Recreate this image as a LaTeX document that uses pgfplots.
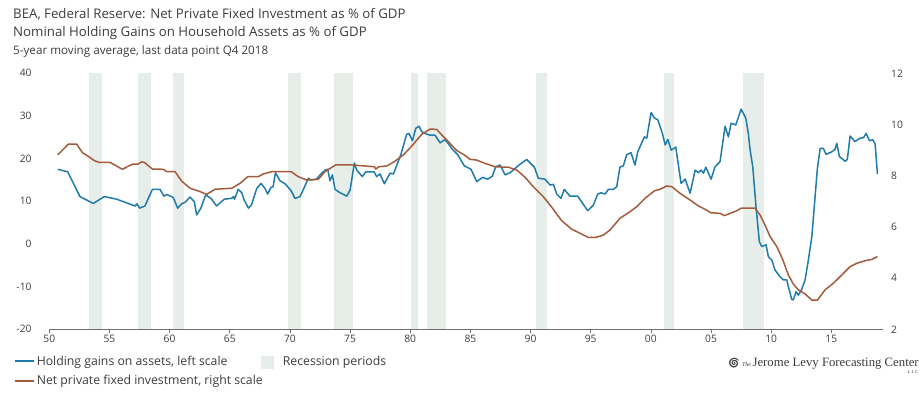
\documentclass[border=0pt]{standalone}
\usepackage{pgfplots}
\pgfplotsset{compat=1.18}
\usepackage{fontspec}
\setmainfont{Open Sans}
\newfontfamily\logofont{Liberation Serif}
\newfontfamily\emojifont{Noto Emoji}
\definecolor{blueline}{HTML}{1E7BAA}
\definecolor{brownline}{HTML}{A35B3B}
\definecolor{recess}{HTML}{E7EDE9}
\definecolor{txt}{HTML}{3C3C3C}
\definecolor{axgray}{HTML}{707070}
\pgfplotsset{
  common/.style={
    at={(0,0)}, anchor=south west,
    scale only axis, width=833.4bp, height=256bp,
    xmin=1950, xmax=2019.27,
    tick label style={font=\fontsize{10.3}{12}\selectfont, text=txt},
    /pgf/number format/assume math mode=true,
    legend style={draw=none, fill=none, inner sep=0pt, anchor=west,
      font=\fontsize{12.3}{14}\selectfont, text=txt,
      /tikz/every even column/.append style={column sep=32bp}},
  }
}
\begin{document}
\begin{tikzpicture}
\path[use as bounding box] (-49.3bp,-67.7bp) rectangle (872.7bp,329.3bp);
\node[anchor=base west, inner sep=0pt, text=txt, font=\fontsize{13.3}{15}\selectfont] at (-36.3bp,311bp) {BEA, Federal Reserve: Net Private Fixed Investment as \% of GDP};
\node[anchor=base west, inner sep=0pt, text=txt, font=\fontsize{13.3}{15}\selectfont] at (-36.3bp,292.3bp) {Nominal Holding Gains on Household Assets as \% of GDP};
\node[anchor=base west, inner sep=0pt, text=txt, font=\fontsize{11.7}{13}\selectfont] at (-36.3bp,275bp) {5-year moving average, last data point Q4 2018};

\begin{axis}[common,
  ymin=-20, ymax=40,
  axis x line*=bottom, axis y line*=left,
  x axis line style={draw=axgray, line width=0.6bp, -},
  y axis line style={draw=none},
  xtick={1950,1955,...,2015},
  xticklabels={50,55,60,65,70,75,80,85,90,95,00,05,10,15},
  ytick={-20,-10,...,40},
  xtick align=outside, major tick length=4bp,
  x tick style={draw=axgray, line width=0.6bp},
  y tick style={draw=none},
  xticklabel style={inner sep=0pt, yshift=-2bp},
  yticklabel style={inner sep=0pt}, yticklabel shift=17.6bp,
  legend style={at={(-0.04236,-0.1266)}},
  legend columns=2,
]
\addplot[forget plot, fill=recess, draw=none] coordinates {(1953.33,-20) (1953.33,40) (1954.38,40) (1954.38,-20)} -- cycle;
\addplot[forget plot, fill=recess, draw=none] coordinates {(1957.41,-20) (1957.41,40) (1958.49,40) (1958.49,-20)} -- cycle;
\addplot[forget plot, fill=recess, draw=none] coordinates {(1960.31,-20) (1960.31,40) (1961.20,40) (1961.20,-20)} -- cycle;
\addplot[forget plot, fill=recess, draw=none] coordinates {(1969.84,-20) (1969.84,40) (1970.95,40) (1970.95,-20)} -- cycle;
\addplot[forget plot, fill=recess, draw=none] coordinates {(1973.69,-20) (1973.69,40) (1975.22,40) (1975.22,-20)} -- cycle;
\addplot[forget plot, fill=recess, draw=none] coordinates {(1980.04,-20) (1980.04,40) (1980.67,40) (1980.67,-20)} -- cycle;
\addplot[forget plot, fill=recess, draw=none] coordinates {(1981.40,-20) (1981.40,40) (1982.95,40) (1982.95,-20)} -- cycle;
\addplot[forget plot, fill=recess, draw=none] coordinates {(1990.46,-20) (1990.46,40) (1991.35,40) (1991.35,-20)} -- cycle;
\addplot[forget plot, fill=recess, draw=none] coordinates {(2001.10,-20) (2001.10,40) (2001.96,40) (2001.96,-20)} -- cycle;
\addplot[forget plot, fill=recess, draw=none] coordinates {(2007.69,-20) (2007.69,40) (2009.44,40) (2009.44,-20)} -- cycle;
\addplot[blueline, line width=1.5bp, line join=round,
  legend image code/.code={\draw[blueline, line width=1.6bp] (0bp,0.5bp) -- (19bp,0.5bp);}]
 table {
1950.7 17.5
1951.53 16.9
1952.55 11.1
1953.66 9.5
1954.57 11.1
1955.6 10.5
1957.12 8.9
1957.3 9.4
1957.5 8.4
1957.95 8.9
1958.57 12.8
1959.2 12.8
1959.53 11.2
1959.76 11.6
1960.3 10.9
1960.67 8.4
1961.0 9.4
1961.3 9.8
1961.7 11.0
1962.05 9.9
1962.25 6.8
1962.6 8.4
1963.0 11.5
1963.44 10.7
1963.9 8.9
1964.55 10.5
1965.16 10.7
1965.3 11.1
1965.4 10.5
1965.7 12.8
1966.0 12.0
1966.2 10.3
1966.55 8.4
1966.8 9.1
1967.24 13.0
1967.6 14.2
1967.93 13.0
1968.15 11.7
1968.43 13.3
1968.6 13.4
1968.8 16.7
1969.18 14.8
1969.6 14.1
1970.1 12.5
1970.42 10.7
1970.84 11.1
1971.2 13.3
1971.53 15.4
1971.75 15.0
1972.2 15.2
1972.64 16.6
1972.92 17.3
1973.14 17.5
1973.33 14.8
1973.53 16.2
1973.75 12.8
1974.17 12.0
1974.72 11.2
1975.0 12.6
1975.36 19.0
1975.55 17.3
1976.02 15.8
1976.3 16.9
1977.0 16.9
1977.2 15.8
1977.49 16.4
1977.85 14.1
1978.32 16.6
1978.6 16.4
1979.24 21.1
1979.7 25.7
1979.9 25.9
1980.18 24.2
1980.46 27.1
1980.73 27.6
1980.96 26.3
1981.23 25.9
1981.65 25.5
1982.06 25.5
1982.48 23.7
1982.84 24.4
1983.03 24.0
1983.5 22.2
1983.95 20.9
1984.5 18.3
1985.05 17.5
1985.53 14.6
1986.0 15.6
1986.44 15.2
1986.83 15.9
1987.1 18.1
1987.47 18.5
1987.88 16.2
1988.3 16.7
1988.71 17.7
1989.13 18.7
1989.68 19.8
1990.32 18.0
1990.65 15.4
1991.2 15.2
1991.62 13.8
1991.9 14.0
1992.17 11.7
1992.53 10.7
1992.8 12.8
1993.28 11.2
1993.92 11.2
1994.75 7.8
1995.22 9.1
1995.58 11.7
1995.86 12.0
1996.2 11.7
1996.47 12.8
1996.88 12.8
1997.16 13.4
1997.43 18.0
1997.71 18.3
1997.99 20.9
1998.35 21.4
1998.68 18.5
1998.91 21.6
1999.24 23.7
1999.46 25.1
1999.66 24.8
2000.02 30.8
2000.3 29.5
2000.58 29.1
2000.96 25.9
2001.19 23.2
2001.41 24.5
2001.69 22.0
2002.07 22.7
2002.51 14.2
2002.85 15.2
2003.26 11.9
2003.68 17.3
2003.95 16.7
2004.18 17.3
2004.37 16.6
2004.57 18.0
2005.0 15.2
2005.34 18.1
2005.75 19.3
2006.17 27.6
2006.44 25.1
2006.67 28.3
2007.06 27.9
2007.5 31.6
2007.89 29.5
2008.1 25.9
2008.25 22.0
2008.47 18.1
2008.74 8.7
2009.02 0.5
2009.22 -0.6
2009.57 -0.2
2009.77 -3.0
2010.05 -3.8
2010.32 -6.1
2010.74 -7.7
2011.01 -8.4
2011.3 -8.4
2011.43 -10.0
2011.71 -13.0
2011.84 -13.1
2012.07 -11.2
2012.26 -12.0
2012.54 -10.6
2012.82 -8.4
2013.09 -3.8
2013.38 1.7
2013.65 11.1
2013.84 17.7
2014.07 22.4
2014.34 22.4
2014.56 21.0
2015.04 21.6
2015.31 22.2
2015.45 23.6
2015.67 20.5
2016.14 19.4
2016.33 19.8
2016.56 25.3
2016.97 24.0
2017.39 24.8
2017.67 24.9
2017.89 25.9
2018.17 24.2
2018.45 24.4
2018.64 23.4
2018.83 16.4
};
\addlegendentry{Holding gains on assets, left scale}
\addlegendimage{legend image code/.code={\fill[recess] (0bp,-6bp) rectangle (12bp,6bp); \path (19bp,0bp);}}
\addlegendentry{Recession periods}
\end{axis}

\begin{axis}[common,
  ymin=2, ymax=12,
  axis x line=none, axis y line*=right,
  y axis line style={draw=none}, y tick style={draw=none},
  ytick={2,4,...,12},
  yticklabel style={inner sep=0pt}, yticklabel shift=8.3bp,
  legend style={at={(-0.04236,-0.2020)}},
]
\addplot[brownline, line width=1.5bp, line join=round,
  legend image code/.code={\draw[brownline, line width=1.6bp] (0bp,0bp) -- (19bp,0bp);}]
 table {
1950.7 8.81
1951.58 9.23
1952.28 9.23
1952.75 8.90
1953.2 8.77
1953.74 8.59
1954.13 8.52
1955.05 8.52
1956.07 8.25
1956.9 8.45
1957.35 8.45
1957.68 8.54
1957.9 8.52
1958.57 8.26
1959.48 8.25
1959.76 8.16
1960.45 8.16
1961.0 7.79
1961.7 7.51
1962.53 7.38
1963.08 7.27
1963.77 7.47
1965.16 7.51
1965.85 7.70
1966.49 7.96
1967.37 7.96
1967.79 8.07
1968.54 8.16
1970.09 8.16
1970.7 7.96
1971.4 7.83
1972.36 7.86
1972.92 8.16
1973.8 8.42
1975.14 8.42
1977.02 8.35
1977.13 8.26
1977.4 8.35
1978.05 8.38
1978.68 8.55
1979.43 8.81
1980.13 9.16
1980.96 9.62
1981.65 9.82
1982.2 9.81
1982.62 9.59
1983.17 9.33
1983.87 8.98
1984.5 8.81
1984.97 8.64
1985.53 8.61
1986.22 8.48
1987.05 8.35
1988.16 8.33
1988.85 8.22
1989.54 7.94
1990.23 7.57
1991.06 7.18
1991.76 6.77
1992.59 6.24
1993.42 5.91
1994.12 5.75
1994.8 5.59
1995.42 5.59
1996.05 5.68
1996.61 5.88
1997.44 6.34
1998.13 6.55
1998.83 6.79
1999.52 7.12
2000.3 7.41
2000.77 7.47
2001.32 7.60
2001.74 7.57
2002.43 7.31
2003.26 7.05
2003.95 6.82
2004.5 6.69
2005.0 6.55
2005.75 6.53
2006.11 6.44
2006.58 6.53
2007.14 6.63
2007.5 6.73
2008.66 6.73
2009.08 6.46
2009.49 6.07
2009.91 5.62
2010.47 5.23
2010.97 4.71
2011.43 4.12
2011.85 3.76
2012.26 3.54
2012.82 3.38
2013.38 3.14
2013.84 3.14
2014.48 3.54
2015.17 3.80
2015.87 4.12
2016.56 4.45
2017.12 4.58
2017.81 4.68
2018.37 4.73
2018.83 4.84
};
\addlegendentry{Net private fixed investment, right scale}
\end{axis}

\node[anchor=base west, inner sep=0pt, text=txt] at (678bp,-36.7bp)
 {{\emojifont\fontsize{10}{10}\selectfont 🌀}\hspace{2bp}{\logofont\itshape\fontsize{6}{6}\selectfont The}\hspace{1.5bp}{\logofont\fontsize{12.8}{13}\selectfont Jerome Levy Forecasting Center}};
\node[anchor=base east, inner sep=0pt, text=txt, font=\logofont\itshape\fontsize{4.5}{5}\selectfont] at (869bp,-43.7bp) {L L C};
\end{tikzpicture}
\end{document}
